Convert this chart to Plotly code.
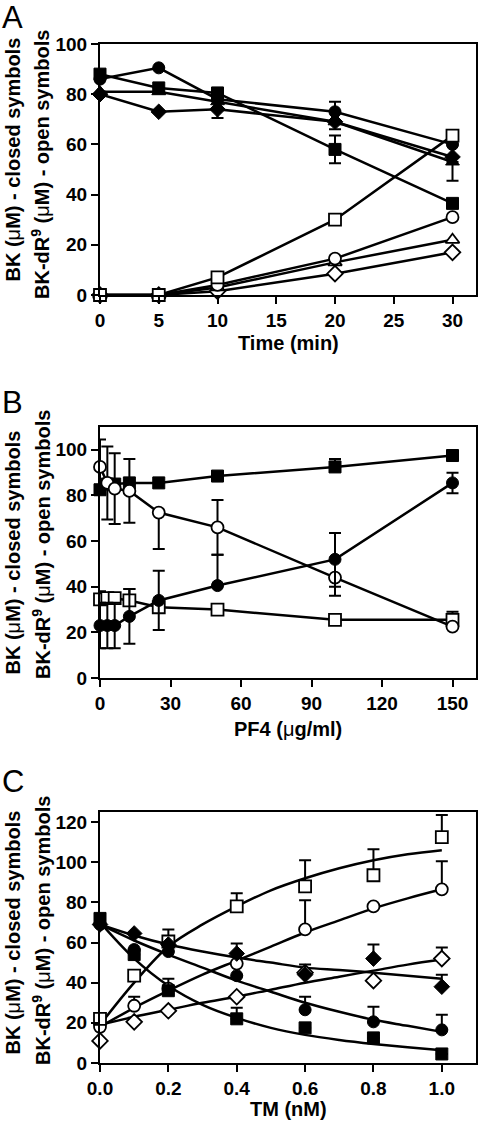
import plotly.graph_objects as go

# ---------------- Panel A : Time course ----------------
time_min = [0, 5, 10, 20, 30]
A_bk_circle = [86, 90.5, 78, 73, 60]
A_bk_square = [88, 82.5, 80.5, 58, 36.5]
A_bk_triangle = [81, 81, 77, 69, 53]
A_bk_diamond = [80, 73, 74, 69, 55]
A_dr_square = [0, 0, 7, 30, 63.5]
A_dr_circle = [0, 0, 4, 14.5, 31]
A_dr_triangle = [0, 0, 3, 13, 22]
A_dr_diamond = [0, 0, 1.5, 8.5, 17]
A_err_circle_p = [0, 0, 0, 4, 0]
A_err_square_p = [0, 0, 0, 5.5, 0]
A_err_square_m = [0, 0, 0, 5.5, 0]
A_err_triangle_m = [0, 0, 0, 3, 7.5]
A_err_diamond_m = [0, 0, 3.5, 0, 0]

# ---------------- Panel B : PF4 ----------------
pf4 = [0, 3.125, 6.25, 12.5, 25, 50, 100, 150]
B_bk_square = [82.5, 85, 85, 85.5, 85.5, 88.5, 92.5, 97.5]
B_bk_circle = [23, 23, 23, 27, 34, 40.5, 52, 85.5]
B_dr_circle = [92.5, 85.5, 83, 82, 72.5, 66, 44, 22.5]
B_dr_square = [34.5, 35, 35, 34, 31, 30, 25.5, 25.5]
B_err_bksq_p = [0, 0, 0, 0, 0, 0, 3.5, 0]
B_err_bkci_p = [10, 10, 10, 12, 13, 13.5, 11.5, 4.5]
B_err_bkci_m = [10, 10, 10, 12, 13, 0, 12, 4.5]
B_err_drci_p = [12, 16, 15.5, 14, 0, 12, 0, 0]
B_err_drci_m = [12, 16, 15.5, 14, 16, 12, 8, 0]
B_err_drsq_p = [3.5, 0, 0, 5, 0, 0, 0, 3.5]

# ---------------- Panel C : TM ----------------
tm = [0, 0.1, 0.2, 0.4, 0.6, 0.8, 1.0]
C_bk_square = [72, 54, 36, 22, 17.5, 12.5, 4.5]
C_bk_circle = [69, 56.5, 55.5, 43.5, 26.5, 20.5, 16.5]
C_bk_diamond = [69, 64.5, 59, 54.5, 44, 52, 38]
C_dr_square = [22, 43.5, 60.5, 78, 88, 93.5, 112.5]
C_dr_circle = [18, 28.5, 37, 49.5, 66.5, 78, 86.5]
C_dr_diamond = [11, 20.5, 26, 33, 45, 41, 52]
C_err_bksq_p = [0, 0, 6, 5.5, 0, 0, 0]
C_err_bkci_p = [0, 0, 0, 0, 6.5, 7.5, 7.5]
C_err_bkdi_p = [0, 0, 0, 5, 5, 7, 6]
C_err_drsq_p = [0, 0, 6, 6.5, 13, 13, 11]
C_err_drci_p = [0, 4.5, 0, 0, 14.5, 0, 14]
C_err_drdi_p = [0, 0, 0, 0, 0, 0, 5.5]

# fitted curves
fit_x = [0, 0.1, 0.2, 0.3, 0.4, 0.5, 0.6, 0.7, 0.8, 0.9, 1.0]
fit_bk_square = [70, 52, 38.5, 29, 22.5, 17.5, 14, 11.5, 9.5, 7.8, 6.3]
fit_bk_circle = [69, 61, 54, 47.5, 41, 35.5, 30, 25.5, 21.5, 18.5, 15.5]
fit_bk_diamond = [69, 63.5, 59, 55.5, 52.5, 50, 47.5, 46.3, 45, 43.5, 42]
fit_dr_square = [19, 40, 58, 69, 78, 86, 92, 97, 101, 104, 106]
fit_dr_circle = [18, 27.5, 36, 44, 51, 58, 65, 71, 77, 82, 86.5]
fit_dr_diamond = [19, 23, 26.5, 30, 33, 36.5, 40, 43, 46, 49, 51.5]

W, H = 480, 1123
FONT = "Liberation Sans"


def px(x):
    return x / W


def py(y):
    return 1 - y / H


xdom = [px(100), px(476)]


def ydom(top, bot):
    return [py(bot), py(top)]


panels = {
    "A": dict(top=44, bot=295),
    "B": dict(top=427, bot=678),
    "C": dict(top=812, bot=1063),
}

fig = go.Figure()


def marker(symbol, filled, size=12):
    return dict(
        symbol=symbol,
        size=size,
        color="black" if filled else "white",
        line=dict(color="black", width=1 if filled else 1.8),
    )


def err(plus, minus=None):
    if minus is None:
        minus = [0] * len(plus)
    return dict(type="data", array=plus, arrayminus=minus, symmetric=False,
                color="black", thickness=2, width=6)


def add(x, y, symbol, filled, axis, mode="lines+markers", plus=None, minus=None, size=12):
    kw = dict(
        x=x, y=y, mode=mode, xaxis="x" + axis, yaxis="y" + axis,
        marker=marker(symbol, filled, size), line=dict(color="black", width=2.5),
        cliponaxis=False, hoverinfo="skip",
    )
    if plus is not None or minus is not None:
        if plus is None:
            plus = [0] * len(x)
        kw["error_y"] = err(plus, minus)
    fig.add_trace(go.Scatter(**kw))


def add_curve(x, y, axis):
    fig.add_trace(go.Scatter(
        x=x, y=y, mode="lines", line=dict(color="black", width=2.5, shape="spline"),
        xaxis="x" + axis, yaxis="y" + axis, hoverinfo="skip",
    ))


# Panel A traces (axis suffix "")
add(time_min, A_bk_square, "square", True, "", plus=A_err_square_p, minus=A_err_square_m)
add(time_min, A_bk_diamond, "diamond", True, "", minus=A_err_diamond_m)
add(time_min, A_bk_triangle, "triangle-up", True, "", minus=A_err_triangle_m)
add(time_min, A_bk_circle, "circle", True, "", plus=A_err_circle_p)
add(time_min, A_dr_diamond, "diamond", False, "")
add(time_min, A_dr_triangle, "triangle-up", False, "")
add(time_min, A_dr_circle, "circle", False, "")
add(time_min, A_dr_square, "square", False, "")

# Panel B traces (axis suffix "2")
add(pf4, B_dr_square, "square", False, "2", plus=B_err_drsq_p)
add(pf4, B_bk_square, "square", True, "2", plus=B_err_bksq_p)
add(pf4, B_dr_circle, "circle", False, "2", plus=B_err_drci_p, minus=B_err_drci_m)
add(pf4, B_bk_circle, "circle", True, "2", plus=B_err_bkci_p, minus=B_err_bkci_m)

# Panel C traces (axis suffix "3")
for fy in [fit_bk_square, fit_bk_circle, fit_bk_diamond, fit_dr_square, fit_dr_circle, fit_dr_diamond]:
    add_curve(fit_x, fy, "3")
add(tm, C_dr_diamond, "diamond", False, "3", mode="markers", plus=C_err_drdi_p)
add(tm, C_dr_circle, "circle", False, "3", mode="markers", plus=C_err_drci_p)
add(tm, C_dr_square, "square", False, "3", mode="markers", plus=C_err_drsq_p)
add(tm, C_bk_diamond, "diamond", True, "3", mode="markers", plus=C_err_bkdi_p)
add(tm, C_bk_circle, "circle", True, "3", mode="markers", plus=C_err_bkci_p)
add(tm, C_bk_square, "square", True, "3", mode="markers", plus=C_err_bksq_p)

tickfont = dict(family=FONT, size=19, color="black", weight="bold")
common = dict(
    showline=True, linewidth=2, linecolor="black", mirror=True,
    ticks="outside", ticklen=7, tickwidth=2, tickcolor="black",
    showgrid=False, zeroline=False, tickfont=tickfont, fixedrange=True,
    automargin=False,
)

fig.update_layout(
    width=W, height=H, margin=dict(l=0, r=0, t=0, b=0, autoexpand=False),
    paper_bgcolor="white", plot_bgcolor="white", showlegend=False,
    xaxis=dict(domain=xdom, anchor="y", range=[0, 32], tickvals=[0, 5, 10, 15, 20, 25, 30], **common),
    yaxis=dict(domain=ydom(**panels["A"]), anchor="x", range=[0, 100], tickvals=[0, 20, 40, 60, 80, 100], **common),
    xaxis2=dict(domain=xdom, anchor="y2", range=[0, 160], tickvals=[0, 30, 60, 90, 120, 150], **common),
    yaxis2=dict(domain=ydom(**panels["B"]), anchor="x2", range=[0, 110], tickvals=[0, 20, 40, 60, 80, 100], **common),
    xaxis3=dict(domain=xdom, anchor="y3", range=[0, 1.1], tickvals=[0, 0.2, 0.4, 0.6, 0.8, 1.0], tickformat=".1f", **common),
    yaxis3=dict(domain=ydom(**panels["C"]), anchor="x3", range=[0, 125], tickvals=[0, 20, 40, 60, 80, 100, 120], **common),
)

MU = '<span style="font-weight:normal">μ</span>'
ytitle1 = f"BK ({MU}M) - closed symbols"
ytitle2 = f"BK-dR<sup>9</sup> ({MU}M) - open symbols"
xtitles = {"A": "Time (min)", "B": f"PF4 ({MU}g/ml)", "C": "TM (nM)"}
xtitle_y = {"A": 343, "B": 729, "C": 1109}
letter_y = {"A": 17, "B": 402.5, "C": 781}
ytitle1_y = {"A": 160, "B": 553, "C": 933}
ytitle2_y = {"A": 165, "B": 545, "C": 931}

ann = []
titlefont = dict(family=FONT, size=20, color="black", weight="bold")
for k, p in panels.items():
    ann.append(dict(text=ytitle1, x=px(12.5), y=py(ytitle1_y[k]), xref="paper", yref="paper",
                    textangle=-90, showarrow=False, xanchor="center", yanchor="middle", font=titlefont))
    ann.append(dict(text=ytitle2, x=px(41), y=py(ytitle2_y[k]), xref="paper", yref="paper",
                    textangle=-90, showarrow=False, xanchor="center", yanchor="middle", font=titlefont))
    ann.append(dict(text=xtitles[k], x=px(288), y=py(xtitle_y[k]), xref="paper", yref="paper",
                    showarrow=False, xanchor="center", yanchor="middle", font=titlefont))
    ann.append(dict(text=k, x=px(0), y=py(letter_y[k]), xref="paper", yref="paper",
                    showarrow=False, xanchor="left", yanchor="middle",
                    font=dict(family=FONT, size=31, color="black")))
fig.update_layout(annotations=ann)

# the default page has an 8px body margin; remove it so the figure sits at (0, 0)
fig.write_html("out.html", config={"displayModeBar": False},
               post_script="document.body.style.margin='0';")
